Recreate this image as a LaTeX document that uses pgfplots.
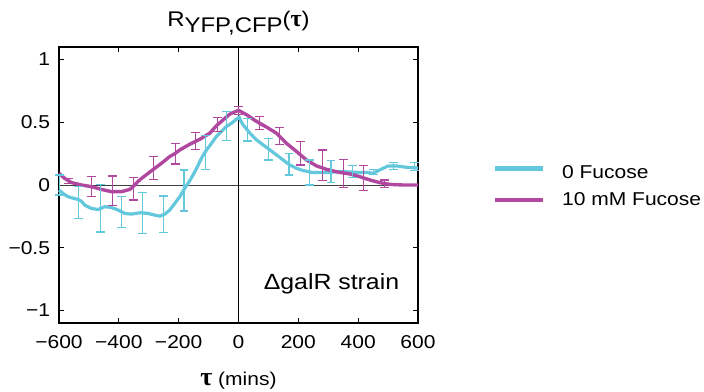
\documentclass[border=0pt]{standalone}
\usepackage{fontspec}
\setmainfont{Liberation Sans}[FakeStretch=1.13]
\newfontfamily\symf{Liberation Serif}
\usepackage{pgfplots}
\pgfplotsset{compat=1.18}
\definecolor{cyanc}{RGB}{100,200,220}
\definecolor{magc}{RGB}{176,72,160}
\begin{document}
\fontsize{9.3pt}{11pt}\selectfont
\begin{tikzpicture}
\path[use as bounding box] (-29.5pt,-34pt) rectangle (322.5pt,161.5pt);
\begin{axis}[
  at={(0,0)}, anchor=south west,
  scale only axis, width=179.5pt, height=138pt,
  xmin=-600, xmax=600, ymin=-1.1, ymax=1.1,
  clip=false,
  axis line style={line width=0.6pt},
  tick align=inside, major tick length=2.5pt,
  tick style={line width=0.5pt, black},
  xtick={-600,-400,-200,0,200,400,600},
  xticklabels={−600,−400,−200,0,200,400,600},
  ytick={-1,-0.5,0,0.5,1},
  yticklabels={−1,−0.5,0,0.5,1},
  xticklabel style={anchor=base, yshift=-12.5pt},
  yticklabel style={anchor=east, xshift=-1.2pt},
  every axis title shift=0pt,
  title={R\raisebox{-3pt}{YFP,CFP}({\fontsize{12pt}{12pt}\selectfont\symf\bfseries τ})},
  title style={at={(axis description cs:0.5,1)}, anchor=base, yshift=10.5pt, inner sep=0pt, font=\fontsize{10.6pt}{12pt}\selectfont},
  xlabel={{\fontsize{13pt}{13pt}\selectfont\symf\bfseries τ} (mins)},
  xlabel style={at={(axis description cs:0.5,0)}, anchor=base, yshift=-31pt, inner sep=0pt},
  error bars/error bar style={line width=0.6pt},
  error bars/error mark options={rotate=90, mark size=2.2pt, line width=0.6pt},
]
\draw[line width=0.5pt, black!75] (axis cs:-600,0) -- (axis cs:600,0);
\draw[line width=0.5pt, black] (axis cs:0,-1.1) -- (axis cs:0,1.1);

% 0 Fucose
\addplot[cyanc, line width=1.6pt, no marks] coordinates {
(-600,-0.04) (-585,-0.07) (-570,-0.093) (-553,-0.105) (-536,-0.115) (-525,-0.13)
(-514,-0.16) (-492,-0.187) (-469,-0.195) (-447,-0.173) (-425,-0.179) (-402,-0.2)
(-380,-0.227) (-358,-0.232) (-340,-0.225) (-324,-0.221) (-302,-0.227) (-280,-0.24)
(-263,-0.248) (-246,-0.232) (-230,-0.2) (-213,-0.147) (-196,-0.093) (-180,-0.027)
(-165,0.027) (-152,0.08) (-140,0.133) (-124,0.213) (-107,0.28) (-90,0.333)
(-74,0.387) (-57,0.427) (-40,0.467) (-23,0.493) (-7,0.525) (2,0.541) (8,0.51)
(15,0.48) (29,0.44) (43,0.4) (60,0.36) (82,0.32) (105,0.28) (127,0.24) (149,0.2)
(171,0.16) (194,0.133) (216,0.115) (249,0.099) (294,0.099) (339,0.107) (372,0.104)
(405,0.1) (430,0.1) (450,0.093) (472,0.12) (500,0.152) (528,0.152) (562,0.141) (600,0.136)
};
% 10 mM Fucose
\addplot[magc, line width=1.7pt, no marks] coordinates {
(-600,0.093) (-581,0.053) (-558,0.019) (-525,0) (-492,-0.013) (-458,-0.035)
(-425,-0.053) (-391,-0.053) (-363,-0.035) (-347,0) (-335,0.03) (-324,0.053)
(-302,0.093) (-280,0.133) (-263,0.163) (-246,0.195) (-230,0.227) (-213,0.25)
(-196,0.28) (-163,0.325) (-129,0.365) (-96,0.413) (-74,0.472) (-51,0.52)
(-29,0.565) (-5,0.59) (0,0.595) (27,0.56) (60,0.507) (94,0.461) (127,0.413)
(160,0.333) (194,0.267) (227,0.2) (261,0.152) (294,0.125) (320,0.11) (339,0.1)
(372,0.088) (405,0.067) (439,0.04) (472,0.019) (506,0.005) (550,0) (600,0)
};
% error bars 0 Fucose
\addplot[cyanc, draw=none, mark=none, error bars/.cd, y dir=both, y explicit] coordinates {
(-598,0) +- (0,0.08)
(-534,-0.14) +- (0,0.127)
(-461,-0.185) +- (0,0.19)
(-391,-0.217) +- (0,0.124)
(-322,-0.224) +- (0,0.163)
(-252,-0.233) +- (0,0.145)
(-182,-0.044) +- (0,0.164)
(-110,0.26) +- (0,0.137)
(-40,0.47) +- (0,0.117)
(29,0.44) +- (0,0.09)
(99,0.284) +- (0,0.084)
(169,0.167) +- (0,0.087)
(238,0.1) +- (0,0.1)
(309,0.11) +- (0,0.087)
(380,0.11) +- (0,0.047)
(450,0.105) +- (0,0.02)
(519,0.15) +- (0,0.028)
(589,0.145) +- (0,0.032)
};
% error bars 10 mM Fucose
\addplot[magc, draw=none, mark=none, error bars/.cd, y dir=both, y explicit] coordinates {
(-568,0.03) +- (0,0.02)
(-492,-0.013) +- (0,0.08)
(-422,-0.047) +- (0,0.118)
(-351,-0.03) +- (0,0.09)
(-283,0.137) +- (0,0.09)
(-211,0.25) +- (0,0.083)
(-143,0.352) +- (0,0.067)
(-71,0.483) +- (0,0.056)
(0,0.593) +- (0,0.034)
(69,0.493) +- (0,0.053)
(138,0.392) +- (0,0.067)
(208,0.253) +- (0,0.093)
(280,0.157) +- (0,0.122)
(350,0.093) +- (0,0.112)
(419,0.055) +- (0,0.1)
(489,0.01) +- (0,0.03)
};
\node[anchor=base, inner sep=0pt, font=\fontsize{11pt}{12pt}\selectfont] at (axis description cs:0.759,0.1196) {ΔgalR strain};
\end{axis}
\draw[cyanc, line width=2.2pt] (218pt,77.35pt) -- (242pt,77.35pt);
\draw[magc, line width=2.2pt] (218pt,61.5pt) -- (242pt,61.5pt);
\node[anchor=base west, inner sep=0pt] at (251.35pt,72.35pt) {0 Fucose};
\node[anchor=base west, inner sep=0pt] at (251.35pt,59pt) {10 mM Fucose};
\end{tikzpicture}
\end{document}
